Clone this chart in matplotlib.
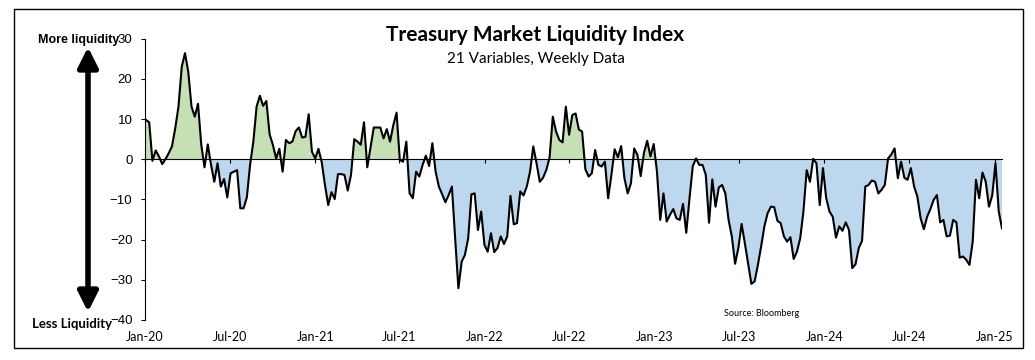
import numpy as np
import pandas as pd
import matplotlib
matplotlib.use("Agg")
import matplotlib.pyplot as plt
import matplotlib.dates as mdates
from matplotlib.patches import Rectangle, FancyArrowPatch

# weekly index readings, first week of Jan 2020 onwards
start_date = "2020-01-03"
liquidity = [
    9.8, 9.2, -0.4, 2.2, 0.7, -1.2, 0.0, 1.5, 3.2, 7.7,
    13.1, 23.0, 26.4, 21.8, 13.1, 10.6, 13.8, 3.6, -2.0, 3.7,
    -1.4, -5.6, -1.0, -6.8, -4.9, -9.5, -3.5, -3.1, -2.7, -12.2,
    -12.2, -9.5, -1.4, 4.4, 13.1, 15.8, 13.3, 14.5, 6.2, 3.6,
    0.2, 2.6, -3.1, 4.8, 4.0, 4.4, 7.0, 7.9, 5.4, 5.6,
    11.2, 1.9, 0.2, 2.6, -0.7, -6.4, -11.4, -8.2, -9.9, -3.7,
    -3.7, -3.9, -7.8, -3.9, 5.0, 4.4, 3.6,
    9.2, -2.0, 2.9, 7.9, 7.9, 7.9, 5.2, 7.5, 4.4, 8.5,
    11.6, -0.2, -0.6, 4.4, -8.5, -9.7, -3.1, -4.3, -1.4, 0.9,
    -1.7, 4.0, -3.1, -6.8, -8.7, -10.7, -8.9, -6.8, -19.7, -32.1,
    -25.5, -23.8, -19.7, -8.7, -8.5, -17.6, -13.0, -21.3, -23.0, -18.4,
    -23.1, -22.1, -19.2, -21.1, -19.2, -9.1, -16.2, -15.9, -8.0, -9.0,
    -6.8, -3.1, 3.2, -1.0, -5.6, -4.6, -2.7, 0.4, 10.6, 6.9,
    4.8, 4.2, 13.1, 6.1, 11.0, 11.4,
    7.4, 6.9, -2.5, -4.3, -3.5, 2.3, -1.4, -1.8, -0.6, -9.7,
    -3.9, 2.5, 0.5, 3.3, -4.7, -8.5, -6.0, 2.7, 1.1, -4.2,
    1.6, 4.6, 0.7, 3.8, -3.1, -15.1, -8.5, -15.5, -13.8, -12.4,
    -14.7, -15.1, -11.1, -18.3, -9.7, -1.7, 0.2, -1.4, -1.4, -3.9,
    -15.8, -5.0, -11.8, -7.0, -6.4, -8.5, -15.1, -19.2, -26.0, -22.1,
    -16.1, -20.9, -25.9, -31.0, -30.4, -26.3, -21.7, -16.7, -13.4, -11.8,
    -11.9, -15.3, -15.9, -19.2, -20.5, -19.4,
    -24.8, -23.0, -19.7, -13.0, -2.7, -5.6, 0.1, -1.0, -11.4, -2.2,
    -9.7, -13.0, -14.3, -19.5, -16.7, -17.8, -15.7, -17.6, -27.1, -26.1,
    -22.1, -20.3, -6.8, -6.4, -5.3, -5.6, -8.5, -7.6, -6.4, 0.2,
    1.2, 2.7, -4.7, -0.6, -4.6, -5.1, -2.2, -6.8, -9.3, -14.7,
    -17.4, -14.3, -12.4, -10.1, -8.9, -15.7, -15.1, -19.2, -19.0, -15.1,
    -15.7, -24.5, -24.2, -25.0, -26.3, -20.5, -5.1, -9.7, -3.3, -5.6,
    -11.8, -9.0, -1.0, -13.0, -17.2,
]
tick_labels = ["Jan-20", "Jul-20", "Jan-21", "Jul-21", "Jan-22", "Jul-22",
               "Jan-23", "Jul-23", "Jan-24", "Jul-24", "Jan-25"]
y_ticks = [-40, -30, -20, -10, 0, 10, 20, 30]

W, H = 1035, 360
dates = mdates.date2num(pd.date_range(start_date, periods=len(liquidity), freq="7D"))
vals = np.array(liquidity)
tick_pos = mdates.date2num(pd.to_datetime(tick_labels, format="%b-%y"))

fig = plt.figure(figsize=(W / 100, H / 100), dpi=100)
ax = fig.add_axes([145 / W, 1 - 320 / H, (1002 - 145) / W, (320 - 38.7) / H])

ax.fill_between(dates, vals, 0, where=vals >= 0, interpolate=True,
                color="#c5e0b4", lw=0)
ax.fill_between(dates, vals, 0, where=vals <= 0, interpolate=True,
                color="#bdd7ee", lw=0)
ax.plot(dates, vals, color="black", lw=1.5)

ax.set_xlim(tick_pos[0], dates[-1])
ax.set_ylim(-40, 30)
ax.set_yticks(y_ticks)
ax.spines[["top", "right"]].set_visible(False)
ax.spines["bottom"].set_position(("data", 0))
ax.set_xticks(tick_pos)
ax.tick_params(axis="x", direction="out", length=3, labelbottom=False)
ax.tick_params(axis="y", direction="out", length=3, pad=6, labelsize=9.5)
for lab in ax.get_yticklabels():
    lab.set_family("Liberation Sans")

sec = ax.secondary_xaxis("bottom")
sec.set_xticks(tick_pos, tick_labels)
sec.tick_params(length=0, pad=8, labelsize=9)
sec.spines["bottom"].set_visible(False)
for lab in sec.get_xticklabels():
    lab.set_family("Lato")

fig.text(535 / W, 1 - 35 / H, "Treasury Market Liquidity Index", ha="center",
         va="center", fontsize=15, fontweight="bold", family="Lato")
fig.text(535.5 / W, 1 - 59 / H, "21 Variables, Weekly Data", ha="center",
         va="center", fontsize=11, family="Lato")
fig.text(38 / W, 1 - 40 / H, "More liquidity", ha="left", va="center",
         fontsize=9, fontweight="bold", family="Liberation Sans")
fig.text(32 / W, 1 - 324 / H, "Less Liquidity", ha="left", va="center",
         fontsize=9.5, fontweight="bold", family="Lato")
fig.text(724 / W, 1 - 314 / H, "Source: Bloomberg", ha="left", va="center",
         fontsize=6.5, family="Lato")

arrow = FancyArrowPatch((88 / W, 1 - 312 / H), (88 / W, 1 - 47 / H),
                        transform=fig.transFigure,
                        arrowstyle="<|-|>,head_length=1.2,head_width=0.6",
                        mutation_scale=10, lw=4, color="black",
                        shrinkA=0, shrinkB=0)
fig.add_artist(arrow)

frame = Rectangle((14 / W, 1 - 348 / H), (1023 - 14) / W, (348 - 9) / H,
                  transform=fig.transFigure, fill=False, lw=1, ec="black")
fig.add_artist(frame)

fig.savefig("out.png", dpi=100)
